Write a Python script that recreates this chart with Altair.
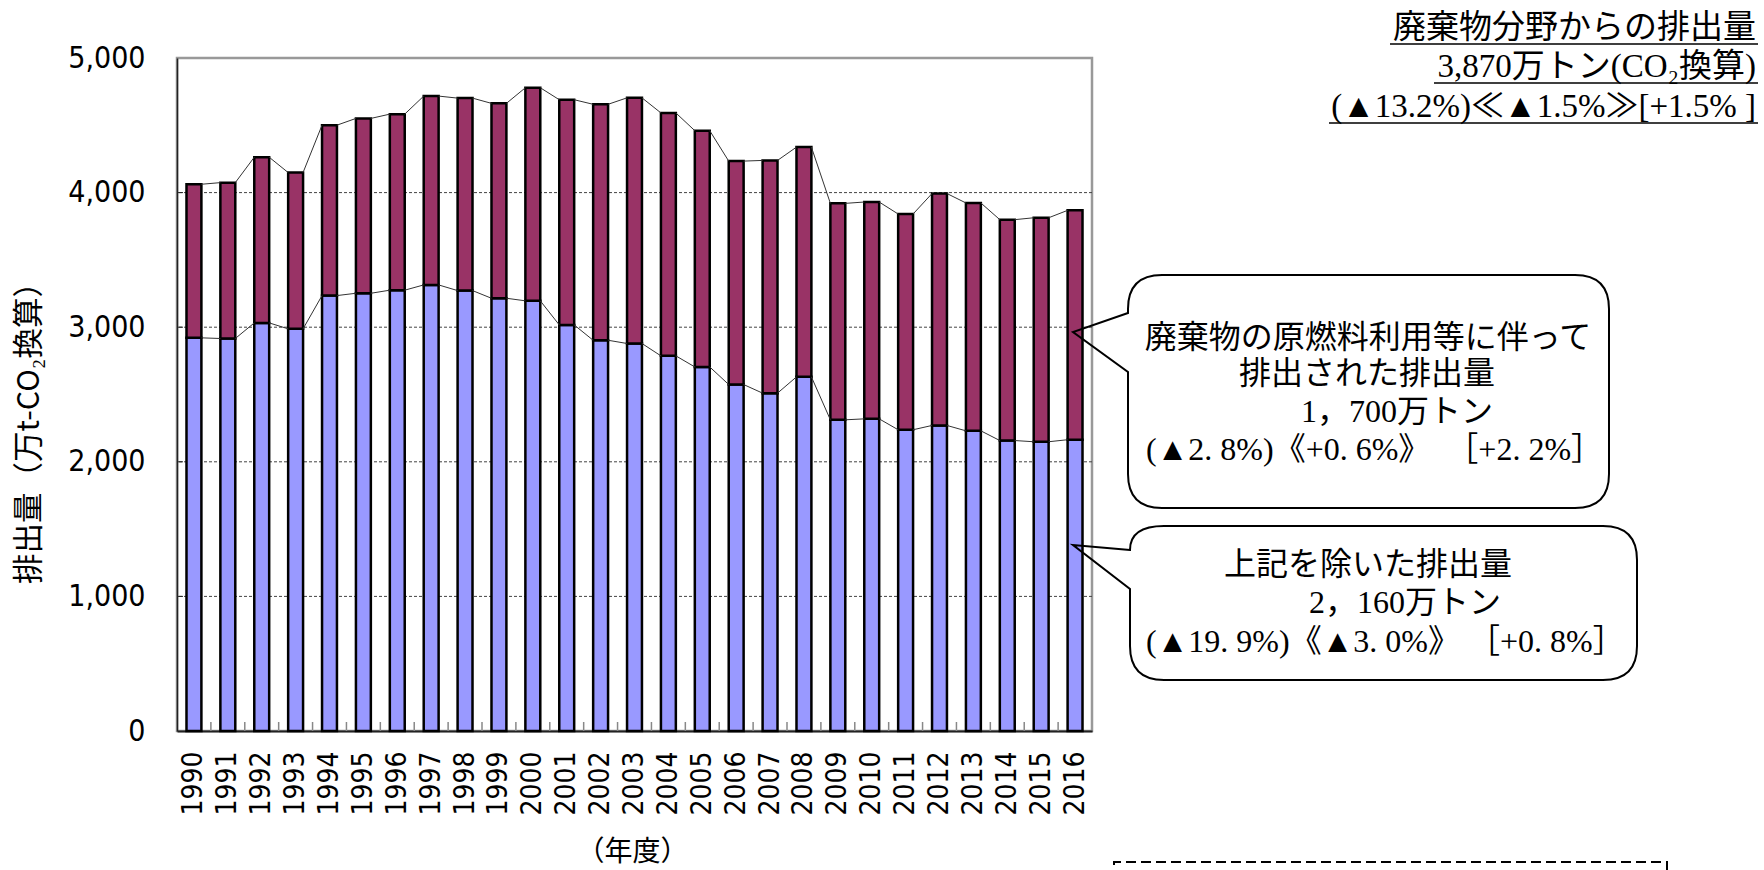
import altair as alt
import pandas as pd

# Fiscal years on the category axis
years = list(range(1990, 2017))

# Emissions from waste used as raw material / fuel (万t-CO2)
fuel_use = [1141, 1158, 1231, 1161, 1266, 1299, 1308, 1403, 1430, 1448,
            1583, 1673, 1753, 1825, 1805, 1755, 1660, 1729, 1707, 1608,
            1611, 1603, 1723, 1693, 1641, 1664, 1704]

# All other waste-sector emissions (万t-CO2)
other = [2921, 2916, 3032, 2988, 3235, 3252, 3275, 3314, 3272, 3215,
         3196, 3017, 2903, 2879, 2787, 2705, 2574, 2510, 2631, 2312,
         2319, 2238, 2270, 2230, 2158, 2149, 2164]

y_ticks = [0, 1000, 2000, 3000, 4000, 5000]

segment_names = ["上記を除いた排出量", "廃棄物の原燃料利用等に伴って排出された排出量"]
segment_colors = ["#9999FF", "#993366"]

# ---- layout (pixels) ----
W, H = 915, 673
LEFT, TOP = 177, 58
HALF = 0.22          # half bar width in category units

LABEL_FONT = "DejaVu Sans Condensed, Noto Sans"
CJK_SANS = "Noto Sans CJK JP"
SERIF = "Liberation Serif, Noto Sans CJK JP"

# ---- tables built from the arrays ----
seg_rows = []
for y, o, f in zip(years, other, fuel_use):
    seg_rows.append({"year": y, "segment": segment_names[0], "lo": 0, "hi": o})
    seg_rows.append({"year": y, "segment": segment_names[1], "lo": o, "hi": o + f})
seg_df = pd.DataFrame(seg_rows)

totals = [o + f for o, f in zip(other, fuel_use)]
line_rows = []
for series in (other, totals):
    for i in range(len(years) - 1):
        line_rows.append({"year": years[i], "next_year": years[i + 1],
                          "v": series[i], "v_next": series[i + 1]})
line_df = pd.DataFrame(line_rows)

year_df = pd.DataFrame({"year": years})
grid_df = pd.DataFrame({"v": y_ticks[1:-1]})
one = pd.DataFrame({"k": [0]})

xs = alt.Scale(domain=[years[0] - 0.5, years[-1] + 0.5], nice=False, zero=False)
ys = alt.Scale(domain=[y_ticks[0], y_ticks[-1]], nice=False)

x_axis = alt.Axis(
    values=years, format="d", labelAngle=-90, labelFont=LABEL_FONT,
    labelFontSize=28, labelColor="black", labelPadding=20, labelFlush=False,
    labelOverlap=False, ticks=False, grid=False, domainColor="#222",
    domainWidth=2, title="（年度）", titleFont=CJK_SANS, titleFontSize=28,
    titleFontWeight="normal", titleColor="black", titleX=632 - LEFT,
    titleY=852 - (TOP + H), titleAlign="center", titleBaseline="middle",
)
y_axis = alt.Axis(
    values=y_ticks, format=",d", labelFont=LABEL_FONT, labelFontSize=30,
    labelColor="black", labelPadding=32, ticks=False, grid=False,
    domainColor="#222", domainWidth=1.5, title="排出量（万t-CO₂換算）",
    titleFont=CJK_SANS, titleFontSize=30.5, titleFontWeight="normal",
    titleColor="black", titleAngle=270, titleX=29 - LEFT, titleY=425 - TOP,
    titleAlign="center", titleBaseline="middle",
)

# dashed horizontal gridlines
grid = alt.Chart(grid_df).mark_rule(color="#444", strokeDash=[3, 2], strokeWidth=1).encode(
    y=alt.Y("v:Q", scale=ys, axis=y_axis)
)
# short inward ticks on the value axis
ytick_marks = alt.Chart(grid_df).mark_rule(color="#222", strokeWidth=1).encode(
    y=alt.Y("v:Q", scale=ys, axis=y_axis), x=alt.value(0), x2=alt.value(6)
)

bars = alt.Chart(seg_df).transform_calculate(
    x0=f"datum.year - {HALF}", x1=f"datum.year + {HALF}"
).mark_bar(stroke="black", strokeWidth=2.5).encode(
    x=alt.X("x0:Q", scale=xs, axis=x_axis),
    x2="x1:Q",
    y=alt.Y("lo:Q", scale=ys, axis=y_axis),
    y2="hi:Q",
    color=alt.Color("segment:N", scale=alt.Scale(domain=segment_names, range=segment_colors), legend=None),
)

# series lines joining neighbouring bar corners
series_lines = alt.Chart(line_df).transform_calculate(
    xa=f"datum.year + {HALF}", xb=f"datum.next_year - {HALF}"
).mark_rule(color="#333", strokeWidth=1).encode(
    x=alt.X("xa:Q", scale=xs, axis=x_axis), x2="xb:Q",
    y=alt.Y("v:Q", scale=ys, axis=y_axis), y2="v_next:Q",
)

# category separators on the bottom axis
cat_ticks = alt.Chart(year_df).transform_filter(
    f"datum.year < {years[-1]}"
).transform_calculate(b="datum.year + 0.5").mark_rule(color="#888", strokeWidth=1.5).encode(
    x=alt.X("b:Q", scale=xs, axis=x_axis), y=alt.value(H), y2=alt.value(H - 9)
)


def px(fx):
    return fx - LEFT


def py(fy):
    return fy - TOP


def text(s, fx, fy, size=32, align="center", font=SERIF, baseline="middle"):
    return alt.Chart(one).mark_text(
        text=s, align=align, baseline=baseline, font=font, fontSize=size, color="black"
    ).encode(x=alt.value(px(fx)), y=alt.value(py(fy)))


def outline(path, width=2, dash=None):
    kw = dict(shape=path, size=4, filled=False, stroke="black", color="black",
              strokeWidth=width, opacity=1)
    if dash:
        kw["strokeDash"] = dash
    return alt.Chart(one).mark_point(**kw).encode(x=alt.value(0), y=alt.value(0))


def fmt(x, y):
    return f"{px(x):.1f},{py(y):.1f}"


def bubble(l, t, r, b, rad, tip, a_top, a_bot):
    return (
        f"M{fmt(l, a_top)} L{fmt(*tip)} L{fmt(l, a_bot)} L{fmt(l, b - rad)} "
        f"Q{fmt(l, b)} {fmt(l + rad, b)} L{fmt(r - rad, b)} Q{fmt(r, b)} {fmt(r, b - rad)} "
        f"L{fmt(r, t + rad)} Q{fmt(r, t)} {fmt(r - rad, t)} L{fmt(l + rad, t)} "
        f"Q{fmt(l, t)} {fmt(l, min(t + rad, a_top))} Z"
    )


callout1 = outline(bubble(1128, 275, 1609, 508, 34, (1073, 332), 313, 372))
callout2 = outline(bubble(1130, 526, 1637, 680, 34, (1073, 545), 550, 589))
dashed_box = outline(f"M{fmt(1114, 895)} L{fmt(1114, 862)} L{fmt(1667, 862)} L{fmt(1667, 895)}",
                     width=2, dash=[10, 5])
underlines = outline(
    f"M{fmt(1390, 44)} L{fmt(1758, 44)} M{fmt(1434, 83)} L{fmt(1758, 83)} "
    f"M{fmt(1329, 123)} L{fmt(1758, 123)}",
    width=1.5,
)

labels = [
    # sector total, top right
    text("廃棄物分野からの排出量", 1756, 38, size=33, align="right", baseline="alphabetic"),
    text("3,870万トン(CO₂換算)", 1756, 77, size=33, align="right", baseline="alphabetic"),
    text("(▲13.2%)≪▲1.5%≫[+1.5% ]", 1756, 117, size=33, align="right", baseline="alphabetic"),
    # upper callout
    text("廃棄物の原燃料利用等に伴って", 1368, 338),
    text("排出された排出量", 1367, 374),
    text("1，700万トン", 1397, 412),
    text("(▲2. 8%)《+0. 6%》\u2002［+2. 2%］", 1146, 450, align="left"),
    # lower callout
    text("上記を除いた排出量", 1368, 565),
    text("2，160万トン", 1405, 603),
    text("(▲19. 9%)《▲3. 0%》 ［+0. 8%］", 1146, 642, align="left"),
]

chart = alt.layer(
    grid, ytick_marks, bars, series_lines, cat_ticks,
    callout1, callout2, dashed_box, underlines, *labels,
).properties(
    width=W, height=H,
    padding={"left": LEFT, "top": TOP, "right": 1764 - LEFT - W, "bottom": 870 - TOP - H},
    autosize=alt.AutoSizeParams(type="none"),
    background="white",
).configure_view(stroke="#999", strokeWidth=2.5)

chart.save("out.html", embed_options={"renderer": "svg", "actions": False})
